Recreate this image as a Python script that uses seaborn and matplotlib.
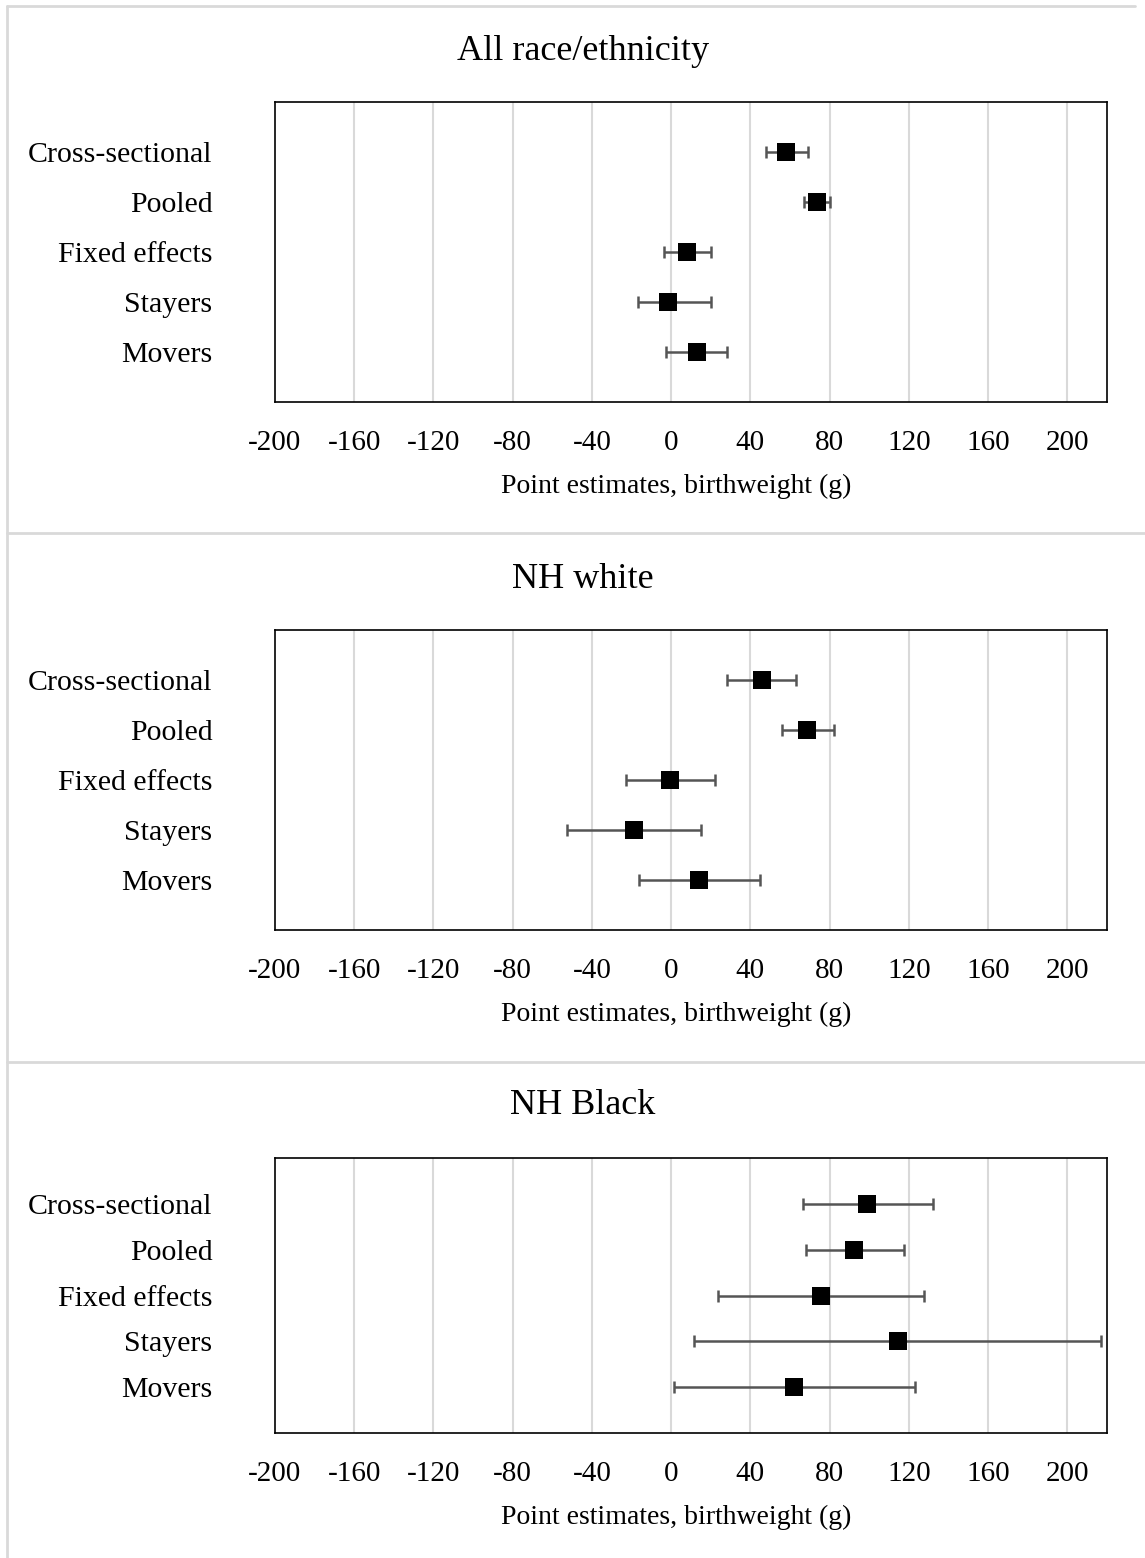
import numpy as np
import pandas as pd
import matplotlib
matplotlib.use("Agg")
import matplotlib.pyplot as plt
from matplotlib.lines import Line2D
import seaborn as sns

# Estimates (g) and 95% CI bounds
models = ["Cross-sectional", "Pooled", "Fixed effects", "Stayers", "Movers"]
groups = ["All race/ethnicity", "NH white", "NH Black"]

est_all = [58, 73.5, 8, -1.5, 13]
lo_all = [48, 67, -3.5, -17, -2.5]
hi_all = [69, 80, 20, 20, 28]

est_white = [46, 68.5, -0.5, -19, 14]
lo_white = [28, 56, -23, -52.5, -16]
hi_white = [63, 82, 22, 15, 45]

est_black = [99, 92.5, 75.5, 114.5, 62]
lo_black = [66.5, 68, 23.5, 11.5, 1.5]
hi_black = [132, 117.5, 127.5, 217, 123]

xticks = [-200, -160, -120, -80, -40, 0, 40, 80, 120, 160, 200]

sns.set_style("white")
plt.rcParams['font.family'] = ['Liberation Serif', 'DejaVu Serif']
plt.rcParams['text.color'] = 'black'
plt.rcParams['axes.labelcolor'] = 'black'
plt.rcParams['xtick.color'] = 'black'
plt.rcParams['ytick.color'] = 'black'

W, H = 1145, 1558
fig = plt.figure(figsize=(W / 100, H / 100), dpi=100)

# panel boxes in pixels: top, bottom
boxes = [(102, 402), (630, 930), (1158, 1433)]
title_y = [51, 580, 1106]
data = [(est_all, lo_all, hi_all), (est_white, lo_white, hi_white), (est_black, lo_black, hi_black)]

for i, (grp, (est, lo, hi)) in enumerate(zip(groups, data)):
    top, bot = boxes[i]
    ax = fig.add_axes([275 / W, 1 - bot / H, 832 / W, (bot - top) / H])
    df = pd.DataFrame({"model": models, "est": est, "lo": lo, "hi": hi})

    ax.errorbar(df["est"], df["model"],
                xerr=[df["est"] - df["lo"], df["hi"] - df["est"]],
                fmt="none", ecolor="#555555", elinewidth=1.8, capsize=4.5, capthick=1.8, zorder=2)
    sns.scatterplot(data=df, x="est", y="model", marker="s", s=150, color="black",
                    edgecolor="black", linewidth=0, ax=ax, zorder=3)

    ax.set_xlim(-200, 220)
    ax.set_ylim(len(models), -1)
    ax.set_xticks(xticks)
    ax.set_xticklabels([str(t) for t in xticks])
    for t in xticks[1:]:
        ax.axvline(t, color="#d9d9d9", lw=1.5, zorder=0)
    ax.tick_params(axis="x", length=0, pad=20, labelsize=21)
    ax.tick_params(axis="y", length=0, pad=45, labelsize=21.5)
    ax.set_ylabel("")
    ax.set_xlabel("Point estimates, birthweight (g)", fontsize=20)
    ax.xaxis.set_label_coords((676 - 275) / 832, -84 / (bot - top))
    ax.xaxis.label.set_va("center")
    for s in ax.spines.values():
        s.set_visible(True)
        s.set_color("black")
        s.set_linewidth(1.2)

    fig.text(583 / W, 1 - title_y[i] / H, grp, ha="center", va="center", fontsize=26)

# outer frame and separators
line_c = "#d9d9d9"
fig.add_artist(Line2D([7 / W, 7 / W], [1 - 6 / H, 0], color=line_c, lw=2, transform=fig.transFigure))
fig.add_artist(Line2D([7 / W, 1135 / W], [1 - 6 / H, 1 - 6 / H], color=line_c, lw=2, transform=fig.transFigure))
for yy in [533, 1062]:
    fig.add_artist(Line2D([7 / W, 1], [1 - yy / H, 1 - yy / H], color=line_c, lw=2, transform=fig.transFigure))

fig.savefig("out.png", dpi=100)
